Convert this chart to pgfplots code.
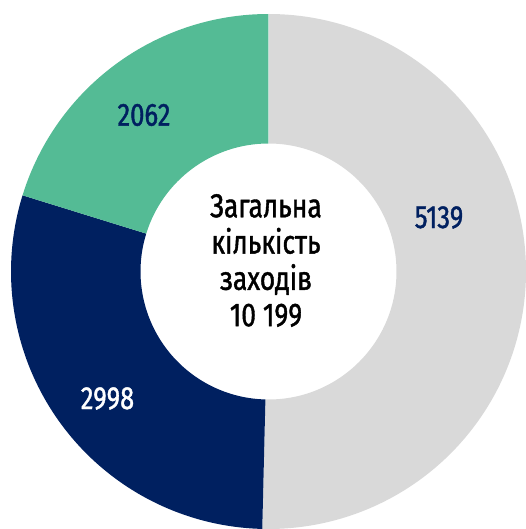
\documentclass[border=0pt]{standalone}
\usepackage{pgfplots}
\pgfplotsset{compat=1.18}
\usepackage{pgfplotstable}
\usepackage{fontspec}
\setmainfont[FakeStretch=0.8,FakeBold=1.2]{Fira Sans}
\definecolor{pgrey}{HTML}{D9D9D9}
\definecolor{pnavy}{HTML}{002060}
\definecolor{pgreen}{HTML}{54BB95}

\pgfplotstableread{
value
5139
2998
2062
}\slices

\begin{document}%
\begin{tikzpicture}
\pgfplotstablegetelem{0}{value}\of\slices \let\vA\pgfplotsretval
\pgfplotstablegetelem{1}{value}\of\slices \let\vB\pgfplotsretval
\pgfplotstablegetelem{2}{value}\of\slices \let\vC\pgfplotsretval
\pgfmathsetmacro\tot{\vA+\vB+\vC}
\pgfmathsetmacro\aA{90}
\pgfmathsetmacro\aB{90-360*(\vA/\tot)}
\pgfmathsetmacro\aC{\aB-360*(\vB/\tot)}
\pgfmathsetmacro\aD{\aC-360*(\vC/\tot)}
\def\Ro{257.5bp}
\def\Ri{128bp}
\def\W{129.5bp}
\useasboundingbox (0,0) rectangle (526bp,529bp);
\begin{axis}[anchor=origin,at={(0,0)},x=1bp,y=1bp,xmin=0,xmax=526,ymin=0,ymax=529,axis lines=none,xtick=\empty,ytick=\empty,clip=false]
\fill[pgrey] (axis cs:268.5,257.5) ++(\aA:\Ro) arc[start angle=\aA,end angle=\aB,radius=\Ro] -- ++(\aB:-\W) arc[start angle=\aB,end angle=\aA,radius=\Ri] -- cycle;
\fill[pnavy] (axis cs:268.5,257.5) ++(\aB:\Ro) arc[start angle=\aB,end angle=\aC,radius=\Ro] -- ++(\aC:-\W) arc[start angle=\aC,end angle=\aB,radius=\Ri] -- cycle;
\fill[pgreen] (axis cs:268.5,257.5) ++(\aC:\Ro) arc[start angle=\aC,end angle=\aD,radius=\Ro] -- ++(\aD:-\W) arc[start angle=\aD,end angle=\aC,radius=\Ri] -- cycle;
\node[font={\fontsize{32bp}{36bp}\selectfont}, text=pnavy] at (axis cs:144,414) {\vC};
\node[font={\fontsize{32bp}{36bp}\selectfont}, text=pnavy] at (axis cs:439,311.5) {\vA};
\node[font={\fontsize{32bp}{36bp}\selectfont}, text=white] at (axis cs:107.5,130.5) {\vB};
\node[align=center, font={\fontsize{33bp}{36.3bp}\selectfont}, text=black] at (axis cs:266,268.5) {Загальна\\кількість\\заходів\\10 199};
\end{axis}
\end{tikzpicture}%
\end{document}
